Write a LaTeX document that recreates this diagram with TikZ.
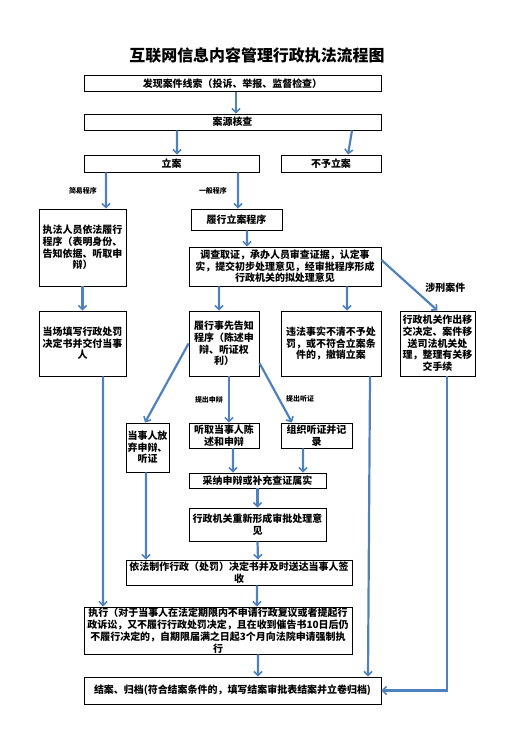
\documentclass[tikz,border=0pt]{standalone}
\usepackage{fontspec}
\setmainfont{Noto Sans CJK SC}
\usetikzlibrary{arrows.meta}
\definecolor{arrowblue}{RGB}{79,129,189}
\begin{document}
\begin{tikzpicture}[
		x=1bp,
		y=-1bp,
		mybox/.style={
				draw=black,
				fill=white,
				line width=0.9bp,
				inner sep=0pt,
				align=center,
				font=\fontsize{10}{11.7}\selectfont\bfseries
			},
		myarrow/.style={
				draw=arrowblue,
				line width=2.2bp,
				-{Straight Barb[length=4bp,width=8bp,line width=1.6bp]}
			},
		mylabel/.style={
				inner sep=0pt,
				font=\fontsize{7}{8}\selectfont\bfseries
			},
	]
	\useasboundingbox (0,0) rectangle (526,742);
	\node [font=\fontsize{16}{18}\selectfont\bfseries] (0) at (257,55) {互联网信息内容管理行政执法流程图};
	\node [mybox, minimum width=297bp, minimum height=15.5bp] (1) at (232.5,83.5) {发现案件线索（投诉、举报、监督检查）};
	\node [mybox, minimum width=297bp, minimum height=16bp] (2) at (232.5,122) {案源核查};
	\node [mybox, minimum width=175bp, minimum height=17bp] (3) at (171.5,163.5) {立案};
	\node [mybox, minimum width=100bp, minimum height=17bp] (4) at (331,163.5) {不予立案};
	\node [mybox, minimum width=91bp, minimum height=21bp] (5) at (236.5,219.5) {履行立案程序};
	\node [mybox, minimum width=87bp, minimum height=77bp] (6) at (82.5,247.5) {执法人员依法履行\\程序（表明身份、\\告知依据、听取申\\辩）};
	\node [mybox, minimum width=192bp, minimum height=39bp] (7) at (285,266.5) {调查取证，承办人员审查证据，认定事\\实，提交初步处理意见，经审批程序形成\\行政机关的拟处理意见};
	\node [mybox, minimum width=87bp, minimum height=65bp] (8) at (82.5,343.5) {当场填写行政处罚\\决定书并交付当事\\人};
	\node [mybox, minimum width=70bp, minimum height=65bp] (9) at (224,343.5) {履行事先告知\\程序（陈述申\\辩、听证权\\利）};
	\node [mybox, minimum width=100bp, minimum height=65bp] (10) at (331,343.5) {违法事实不清不予处\\罚，或不符合立案条\\件的，撤销立案};
	\node [mybox, minimum width=75bp, minimum height=65bp] (11) at (437.5,343.5) {行政机关作出移\\交决定、案件移\\送司法机关处\\理，整理有关移\\交手续};
	\node [mybox, minimum width=43bp, minimum height=49bp] (12) at (147.5,447.5) {当事人放\\弃申辩、\\听证};
	\node [mybox, minimum width=70bp, minimum height=25bp] (13) at (224,435.5) {听取当事人陈\\述和申辩};
	\node [mybox, minimum width=71bp, minimum height=25bp] (14) at (316.5,435.5) {组织听证并记\\录};
	\node [mybox, minimum width=137bp, minimum height=15bp] (15) at (257.5,480.5) {采纳申辩或补充查证属实};
	\node [mybox, minimum width=137bp, minimum height=33bp] (16) at (257.5,524.5) {行政机关重新形成审批处理意\\见};
	\node [mybox, minimum width=226bp, minimum height=25bp] (17) at (239,572.5) {依法制作行政（处罚）决定书并及时送达当事人签\\收};
	\node [mybox, minimum width=268bp, minimum height=47bp, font=\fontsize{10}{12.2}\selectfont\bfseries] (18) at (218,630.5) {执行（对于当事人在法定期限内不申请行政复议或者提起行\\政诉讼，又不履行行政处罚决定，且在收到催告书10日后仍\\不履行决定的，自期限届满之日起3个月向法院申请强制执\\行};
	\node [mybox, minimum width=297bp, minimum height=27bp] (19) at (232.5,690.5) {结案、归档(符合结案条件的，填写结案审批表结案并立卷归档)};
	\draw [myarrow] ([xshift=3.5bp]1.south) -- ([xshift=3.5bp]2.north);
	\draw [myarrow] ([xshift=-55.5bp]2.south) -- ([xshift=5.5bp]3.north);
	\draw [myarrow] ([xshift=119.5bp]2.south) -- ([xshift=17bp]4.north);
	\draw [myarrow] ([xshift=-65.5bp]3.south) -- node [mylabel, left=8bp] (20) {简易程序} ([xshift=23.5bp]6.north);
	\draw [myarrow] ([xshift=66.5bp]3.south) -- node [mylabel, left=10bp] (21) {一般程序} ([xshift=1.5bp]5.north);
	\draw [myarrow] ([xshift=10.5bp]5.south) -- ([xshift=-38bp]7.north);
	\draw [myarrow] (6.south) -- (8.north);
	\draw [myarrow] ([xshift=-66bp]7.south) -- ([xshift=-5bp]9.north);
	\draw [myarrow] ([xshift=62bp]7.south) -- ([xshift=16bp]10.north);
	\draw [myarrow] ([yshift=6.5bp]7.east) -- node [pos=0.55, right=12bp, font=\fontsize{10}{12}\selectfont\bfseries, inner sep=0pt] (22) {涉刑案件} (11.north);
	\draw [myarrow] (9.west) -- ([xshift=-2.5bp]12.north);
	\draw [myarrow] ([xshift=5bp]9.south) -- node [mylabel, left=5bp] (23) {提出申辩} ([xshift=5bp]13.north);
	\draw [myarrow] ([yshift=-19.5bp]9.east) -- node [mylabel, pos=0.6, right=6bp] (24) {提出听证} ([xshift=-24.5bp]14.north);
	\draw [myarrow] ([xshift=9bp]13.south) -- ([xshift=-24.5bp]15.north);
	\draw [myarrow] ([xshift=-13.5bp]14.south) -- ([xshift=45.5bp]15.north);
	\draw [myarrow] (15.south) -- (16.north);
	\draw [myarrow] (16.south) -- ([xshift=19bp]17.north);
	\draw [myarrow] ([xshift=-1.5bp]12.south) -- ([xshift=-93bp]17.north);
	\draw [myarrow] ([xshift=18bp]17.south) -- ([xshift=39bp]18.north);
	\draw [myarrow] ([xshift=20.5bp]8.south) -- ([xshift=-115bp]18.north);
	\draw [myarrow] ([xshift=40bp]18.south) -- ([xshift=25.5bp]19.north);
	\draw [myarrow] ([xshift=39bp]10.south) -- ([xshift=135.5bp]19.north);
	\draw [myarrow] ([xshift=9.5bp]11.south) |- (19.east);
\end{tikzpicture}
\end{document}
